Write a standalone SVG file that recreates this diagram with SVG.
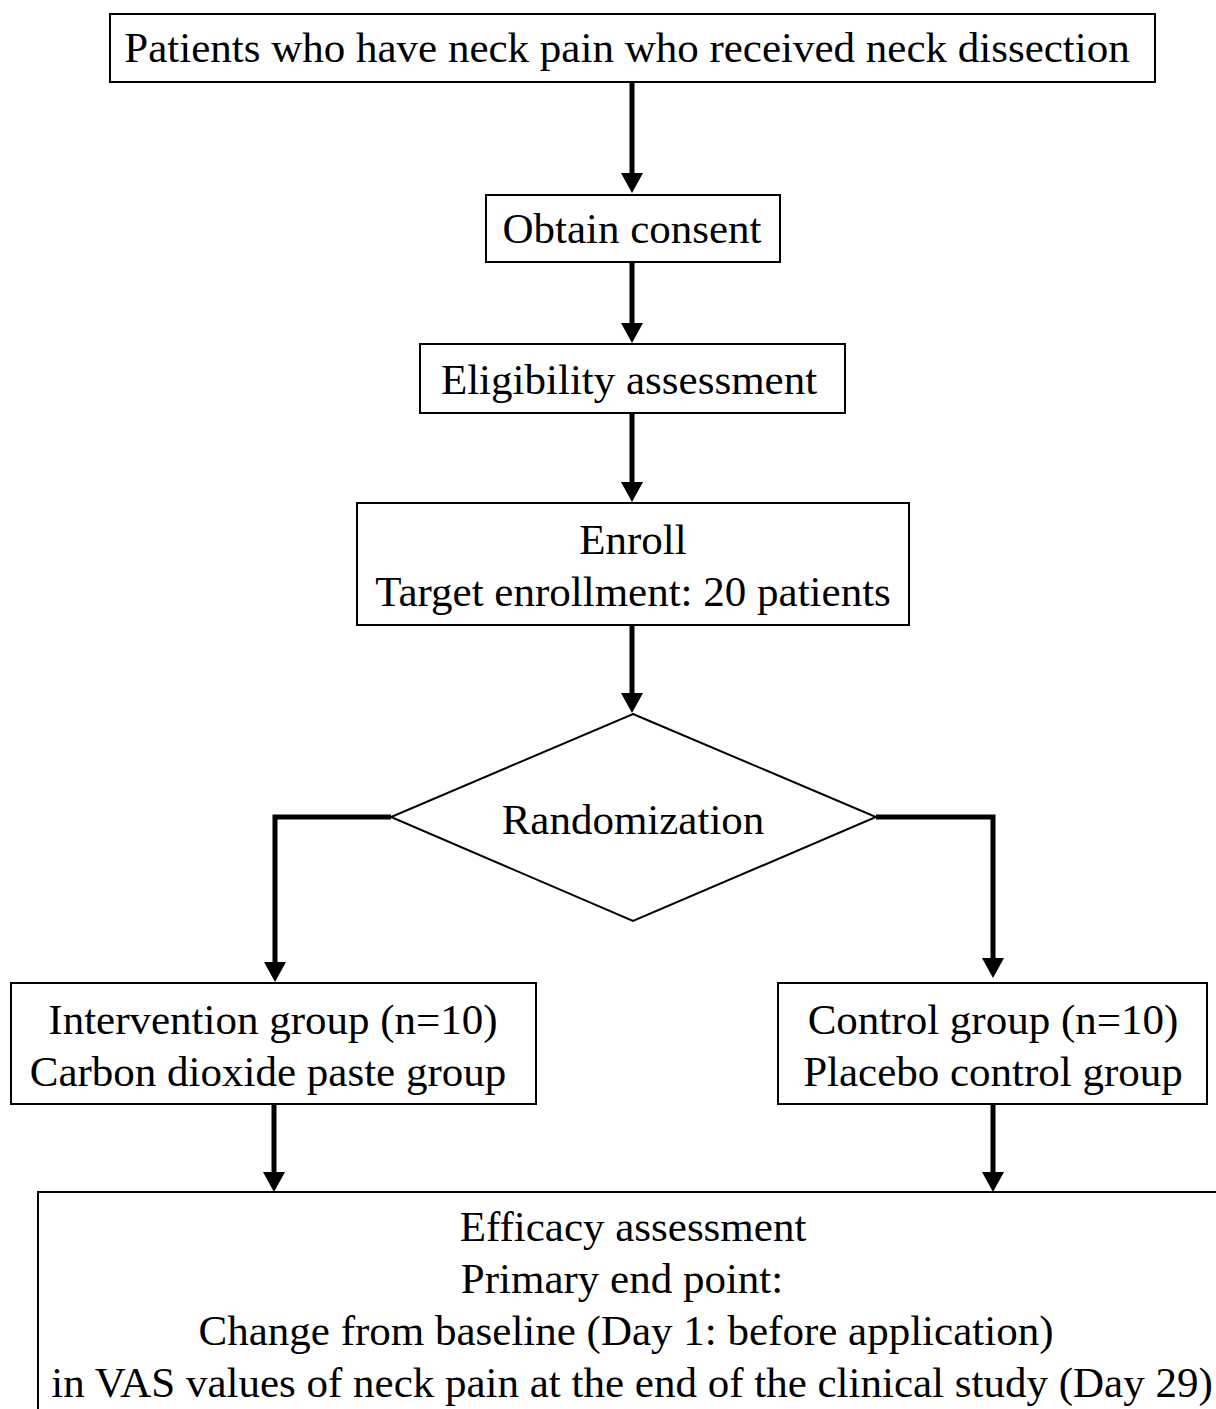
<svg xmlns="http://www.w3.org/2000/svg" width="1216" height="1409" viewBox="0 0 1216 1409">
<style>
.box{fill:#fff;stroke:#000;stroke-width:2}
.t{font-family:"Liberation Serif","Times New Roman",serif;font-size:43px;fill:#000;text-anchor:middle}
.c{fill:none;stroke:#000;stroke-width:5}
</style>
<defs>
<marker id="ah" markerUnits="userSpaceOnUse" markerWidth="20" markerHeight="22" refX="0" refY="11" orient="auto" viewBox="0 0 20 22">
<path d="M0,0 L20,11 L0,22 Z" fill="#000"/>
</marker>
</defs>
<rect width="1216" height="1409" fill="#fff"/>
<g id="connectors">
<line class="c" x1="632" y1="82" x2="632" y2="173" marker-end="url(#ah)"/>
<line class="c" x1="632" y1="262" x2="632" y2="323" marker-end="url(#ah)"/>
<line class="c" x1="632" y1="413" x2="632" y2="482" marker-end="url(#ah)"/>
<line class="c" x1="632" y1="625" x2="632" y2="693" marker-end="url(#ah)"/>
<path class="c" d="M391,817 H275 V962" marker-end="url(#ah)"/>
<path class="c" d="M876,817 H993 V958" marker-end="url(#ah)"/>
<line class="c" x1="274" y1="1104" x2="274" y2="1172" marker-end="url(#ah)"/>
<line class="c" x1="993" y1="1104" x2="993" y2="1172" marker-end="url(#ah)"/>
</g>
<g id="patients">
<rect class="box" x="110" y="14" width="1045" height="68"/>
<text class="t" x="627" y="62">Patients who have neck pain who received neck dissection</text>
</g>
<g id="consent">
<rect class="box" x="486" y="195" width="294" height="67"/>
<text class="t" x="632" y="243">Obtain consent</text>
</g>
<g id="eligibility">
<rect class="box" x="420" y="344" width="425" height="69"/>
<text class="t" x="629" y="394">Eligibility assessment</text>
</g>
<g id="enroll">
<rect class="box" x="357" y="503" width="552" height="122"/>
<text class="t" x="633" y="554">Enroll</text>
<text class="t" x="633" y="606">Target enrollment: 20 patients</text>
</g>
<g id="randomization">
<polygon class="box" points="633,714 876,817 633,921 391,817"/>
<text class="t" x="633" y="834">Randomization</text>
</g>
<g id="intervention">
<rect class="box" x="11" y="983" width="525" height="121"/>
<text class="t" x="273" y="1034">Intervention group (n=10)</text>
<text class="t" x="268" y="1086">Carbon dioxide paste group</text>
</g>
<g id="control">
<rect class="box" x="778" y="983" width="429" height="121"/>
<text class="t" x="993" y="1034">Control group (n=10)</text>
<text class="t" x="993" y="1086">Placebo control group</text>
</g>
<g id="efficacy">
<rect class="box" x="38" y="1192" width="1200" height="240"/>
<text class="t" x="633" y="1241">Efficacy assessment</text>
<text class="t" x="622" y="1293">Primary end point:</text>
<text class="t" x="626" y="1345">Change from baseline (Day 1: before application)</text>
<text class="t" x="632" y="1397">in VAS values of neck pain at the end of the clinical study (Day 29)</text>
</g>
</svg>
